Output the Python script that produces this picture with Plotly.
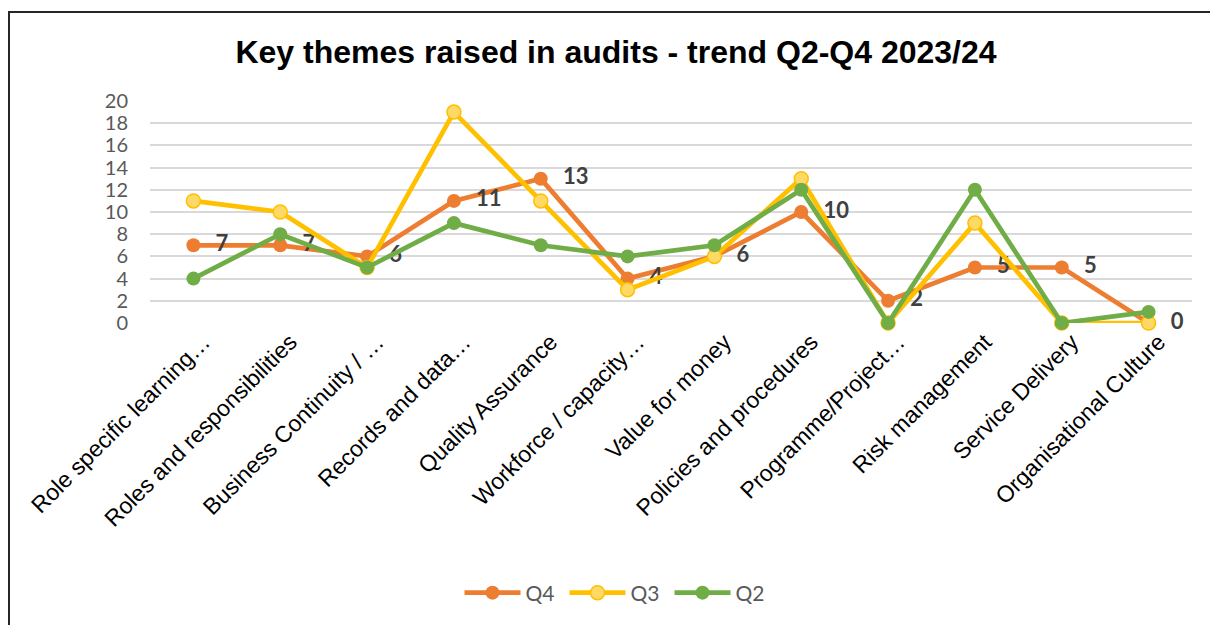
import plotly.graph_objects as go

categories = [
    "Role specific learning…",
    "Roles and responsibilities",
    "Business Continuity / …",
    "Records and data…",
    "Quality Assurance",
    "Workforce / capacity…",
    "Value for money",
    "Policies and procedures",
    "Programme/Project…",
    "Risk management",
    "Service Delivery",
    "Organisational Culture",
]
q4 = [7, 7, 6, 11, 13, 4, 6, 10, 2, 5, 5, 0]
q3 = [11, 10, 5, 19, 11, 3, 6, 13, 0, 9, 0, 0]
q2 = [4, 8, 5, 9, 7, 6, 7, 12, 0, 12, 0, 1]
y_ticks = [0, 2, 4, 6, 8, 10, 12, 14, 16, 18, 20]

W, H = 1210, 625
L, R, T, B = 150, 18, 101, 302
pw = W - L - R
ph = H - T - B

fig = go.Figure()
fig.add_trace(go.Scatter(
    x=categories, y=q4, name="Q4", mode="lines+markers+text",
    line=dict(color="#ED7D31", width=4.7),
    marker=dict(size=14, color="#ED7D31"),
    texttemplate="\u2002\u200a<b>%{y}</b>", textposition="middle right",
    textfont=dict(family="Lato", size=22, color="#404040"),
    cliponaxis=False,
))
fig.add_trace(go.Scatter(
    x=categories, y=q3, name="Q3", mode="lines+markers",
    line=dict(color="#FFC000", width=4.7),
    marker=dict(size=14, color="#FFD966", line=dict(color="#FFC000", width=1.5)),
    cliponaxis=False,
))
fig.add_trace(go.Scatter(
    x=categories, y=q2, name="Q2", mode="lines+markers",
    line=dict(color="#70AD47", width=4.7),
    marker=dict(size=14, color="#70AD47"),
    cliponaxis=False,
))

fig.update_layout(
    width=W, height=H,
    margin=dict(l=L, r=R, t=T, b=B),
    paper_bgcolor="white", plot_bgcolor="white",
    title=dict(
        text="<b>Key themes raised in audits - trend Q2-Q4 2023/24</b>",
        font=dict(family="Liberation Sans", size=32, color="black"),
        xref="container", x=616 / W, xanchor="center",
        yref="container", y=1 - 52 / H, yanchor="middle",
    ),
    showlegend=True,
    legend=dict(
        orientation="h", xref="paper", x=(617 - L) / pw, xanchor="center",
        yref="paper", y=-(593 - (T + ph)) / ph, yanchor="middle",
        font=dict(family="Lato", size=21, color="#595959"),
        bgcolor="rgba(0,0,0,0)",
        itemwidth=56, entrywidth=34,
    ),
    shapes=[dict(
        type="rect", xref="paper", yref="paper",
        x0=(9 - L) / pw, x1=(W + 20 - L) / pw,
        y0=-(H + 20 - (T + ph)) / ph, y1=(T + ph - 12) / ph,
        line=dict(color="#262626", width=2), fillcolor="rgba(0,0,0,0)",
        layer="below",
    )],
)
fig.update_xaxes(
    type="category", range=[-0.5, len(categories) - 0.5],
    tickangle=-45, showgrid=False, showline=False, ticks="",
    tickfont=dict(family="Liberation Sans", size=23, color="black"),
    ticklabelshift=10, ticklabelstandoff=0,
)
fig.update_yaxes(
    range=[0, 20], tickvals=y_ticks, showgrid=True,
    gridcolor="#D9D9D9", gridwidth=1.5, zeroline=False, showline=False,
    tickfont=dict(family="Lato", size=20, color="#595959"),
    ticklabelstandoff=21,
)

fig.write_html("out.html")
